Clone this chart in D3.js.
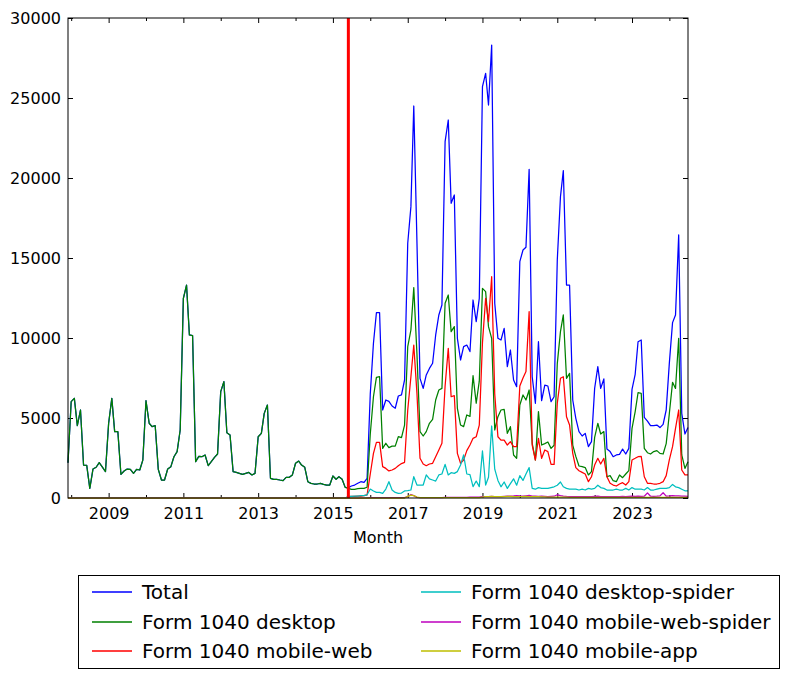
<!DOCTYPE html>
<html>
<head>
<meta charset="utf-8">
<script src="https://cdn.jsdelivr.net/npm/d3@7"></script>
<style>
  body { margin: 0; background: #fff; }
  svg { display: block; font-family: "DejaVu Sans", sans-serif; }
</style>
</head>
<body>
<svg id="chart" width="790" height="679"></svg>
<script>
// one value per month, starting at firstMonth
const firstMonth = "2007-12";
const markerMonth = "2015-06";

const total = [
  2200, 6020, 6230, 4520, 5500, 2060, 2040, 600, 1810, 1920,
  2210, 1930, 1650, 4670, 6230, 4150, 4150, 1480, 1690, 1810,
  1790, 1540, 1790, 1750, 2370, 6080, 4670, 4460, 4520, 1790,
  1125, 1125, 1810, 1960, 2580, 2900, 4250, 12480, 13310, 10190,
  10150, 2270, 2600, 2580, 2690, 2020, 2270, 2540, 2750, 6650,
  7270, 4080, 3940, 1650, 1600, 1540, 1480, 1540, 1600, 1440,
  1540, 3830, 4040, 5290, 5810, 1230, 1170, 1170, 1125, 1085,
  1290, 1290, 1440, 2170, 2310, 2060, 1915, 1020, 915, 875,
  875, 915, 855, 810, 810, 1375, 1170, 1330, 1170, 665,
  650, 750, 810, 920, 1020, 980, 1230, 6500, 9670, 11580,
  11580, 5500, 6125, 6040, 5750, 5610, 6375, 6440, 7375, 15920,
  18210, 24500, 16000, 7480, 6850, 7690, 8100, 8420, 10190, 11440,
  12060, 22270, 23625, 18420, 18940, 9980, 8625, 9460, 9560, 9150,
  12375, 11020, 12480, 25710, 26540, 24560, 28310, 12170, 9980, 9875,
  10600, 8210, 9250, 7375, 6960, 14770, 15500, 15670, 20540, 7580,
  5920, 9770, 6080, 7060, 7000, 6020, 6330, 14875, 18830, 20460,
  13310, 13310, 6125, 4980, 4150, 3875, 4040, 3210, 3520, 6850,
  8210, 6850, 7440, 3060, 2900, 2580, 2690, 2730, 3060, 2750,
  3100, 6790, 7730, 9770, 9875, 5040, 4810, 4520, 4520, 4560,
  4400, 4600, 5500, 8460, 10960, 11440, 16440, 5290, 4000, 4400
];

const desktop = [
  2200, 6020, 6230, 4520, 5500, 2060, 2040, 600, 1810, 1920,
  2210, 1930, 1650, 4670, 6230, 4150, 4150, 1480, 1690, 1810,
  1790, 1540, 1790, 1750, 2370, 6080, 4670, 4460, 4520, 1790,
  1125, 1125, 1810, 1960, 2580, 2900, 4250, 12480, 13310, 10190,
  10150, 2270, 2600, 2580, 2690, 2020, 2270, 2540, 2750, 6650,
  7270, 4080, 3940, 1650, 1600, 1540, 1480, 1540, 1600, 1440,
  1540, 3830, 4040, 5290, 5810, 1230, 1170, 1170, 1125, 1085,
  1290, 1290, 1440, 2170, 2310, 2060, 1915, 1020, 915, 875,
  875, 915, 855, 810, 810, 1375, 1170, 1330, 1170, 665,
  600, 540, 540, 580, 600, 600, 670, 4000, 6330, 7540,
  7580, 3100, 3420, 3150, 3240, 3240, 3830, 3770, 4560, 9460,
  10500, 13150, 9000, 4150, 3875, 4150, 4670, 4920, 6125, 6750,
  6850, 12170, 12690, 10400, 10710, 5600, 4560, 4460, 5190, 5100,
  7650, 5920, 7300, 13100, 12900, 10710, 9980, 4250, 5080, 5500,
  5540, 4040, 4460, 2690, 2480, 5810, 6440, 6125, 6750, 3420,
  2375, 5400, 3310, 3400, 3500, 3100, 3300, 8400, 10400, 11440,
  7480, 7790, 3310, 2600, 2000, 1960, 1900, 1440, 1650, 3790,
  4670, 4000, 4150, 1330, 1400, 1080, 1020, 1440, 1270, 1500,
  1710, 4350, 5400, 6580, 6540, 3100, 2830, 2750, 2900, 2960,
  2790, 2750, 3400, 5300, 7230, 6850, 9980, 2690, 1850, 2270
];

const mobileWeb = [
  0, 0, 0, 0, 0, 0, 0, 0, 0, 0,
  0, 0, 0, 0, 0, 0, 0, 0, 0, 0,
  0, 0, 0, 0, 0, 0, 0, 0, 0, 0,
  0, 0, 0, 0, 0, 0, 0, 0, 0, 0,
  0, 0, 0, 0, 0, 0, 0, 0, 0, 0,
  0, 0, 0, 0, 0, 0, 0, 0, 0, 0,
  0, 0, 0, 0, 0, 0, 0, 0, 0, 0,
  0, 0, 0, 0, 0, 0, 0, 0, 0, 0,
  0, 0, 0, 0, 0, 0, 0, 0, 0, 0,
  80, 100, 100, 120, 120, 150, 200, 1500, 2790, 3480,
  3480, 1960, 1850, 1690, 1750, 1850, 2020, 2150, 2230, 5500,
  7580, 9560, 6540, 2480, 2125, 2020, 2125, 2170, 2580, 3000,
  3420, 7000, 9350, 6330, 6400, 2790, 2170, 2375, 2960, 3310,
  3730, 3830, 4560, 9700, 12480, 11020, 13830, 6500, 3830, 3620,
  3620, 3310, 3520, 3210, 3210, 7000, 7500, 7900, 11650, 3310,
  2375, 3730, 2480, 3000, 2900, 2100, 2100, 5920, 7480, 7580,
  5080, 4560, 2790, 1900, 1700, 1600, 1500, 1020, 1330, 2060,
  2480, 2125, 2480, 1330, 920, 810, 750, 875, 960, 810,
  1020, 2375, 2480, 2580, 2600, 1330, 920, 920, 875, 875,
  920, 1020, 1400, 2400, 3210, 4350, 5500, 1750, 1440, 1440
];

const desktopSpider = [
  0, 0, 0, 0, 0, 0, 0, 0, 0, 0,
  0, 0, 0, 0, 0, 0, 0, 0, 0, 0,
  0, 0, 0, 0, 0, 0, 0, 0, 0, 0,
  0, 0, 0, 0, 0, 0, 0, 0, 0, 0,
  0, 0, 0, 0, 0, 0, 0, 0, 0, 0,
  0, 0, 0, 0, 0, 0, 0, 0, 0, 0,
  0, 0, 0, 0, 0, 0, 0, 0, 0, 0,
  0, 0, 0, 0, 0, 0, 0, 0, 0, 0,
  0, 0, 0, 0, 0, 0, 0, 0, 0, 0,
  100, 100, 120, 120, 150, 150, 200, 560, 440, 350,
  350, 290, 560, 1020, 500, 350, 290, 310, 440, 460,
  500, 1330, 810, 810, 810, 1440, 1190, 1125, 1060, 1440,
  1500, 2100, 1440, 1580, 1540, 1650, 2060, 2690, 1500, 1460,
  710, 1060, 710, 2940, 810, 1300, 4500, 1800, 1100, 700,
  1000, 600, 900, 1200, 800, 1400, 1100, 1500, 1900, 600,
  550, 650, 600, 600, 600, 650, 700, 800, 1000, 700,
  600, 550, 550, 550, 500, 550, 500, 600, 550, 600,
  800, 650, 600, 500, 500, 500, 550, 500, 500, 600,
  500, 650, 550, 550, 550, 500, 650, 500, 500, 550,
  600, 600, 600, 650, 850, 700, 650, 550, 450, 450
];

const mobileWebSpider = [
  0, 0, 0, 0, 0, 0, 0, 0, 0, 0,
  0, 0, 0, 0, 0, 0, 0, 0, 0, 0,
  0, 0, 0, 0, 0, 0, 0, 0, 0, 0,
  0, 0, 0, 0, 0, 0, 0, 0, 0, 0,
  0, 0, 0, 0, 0, 0, 0, 0, 0, 0,
  0, 0, 0, 0, 0, 0, 0, 0, 0, 0,
  0, 0, 0, 0, 0, 0, 0, 0, 0, 0,
  0, 0, 0, 0, 0, 0, 0, 0, 0, 0,
  0, 0, 0, 0, 0, 0, 0, 0, 0, 0,
  0, 0, 0, 0, 0, 0, 10, 20, 20, 20,
  20, 20, 20, 20, 20, 20, 20, 20, 20, 80,
  220, 150, 40, 30, 30, 30, 30, 30, 30, 30,
  30, 40, 40, 40, 40, 40, 40, 40, 40, 50,
  50, 50, 50, 80, 90, 80, 100, 90, 80, 90,
  100, 110, 120, 130, 150, 130, 120, 140, 160, 120,
  110, 100, 110, 100, 90, 100, 110, 200, 150, 120,
  100, 90, 90, 80, 80, 80, 90, 80, 80, 100,
  110, 90, 90, 80, 80, 80, 90, 90, 100, 90,
  100, 110, 100, 120, 100, 110, 320, 110, 100, 110,
  130, 330, 120, 130, 150, 140, 130, 120, 110, 100
];

const mobileApp = [
  0, 0, 0, 0, 0, 0, 0, 0, 0, 0,
  0, 0, 0, 0, 0, 0, 0, 0, 0, 0,
  0, 0, 0, 0, 0, 0, 0, 0, 0, 0,
  0, 0, 0, 0, 0, 0, 0, 0, 0, 0,
  0, 0, 0, 0, 0, 0, 0, 0, 0, 0,
  0, 0, 0, 0, 0, 0, 0, 0, 0, 0,
  0, 0, 0, 0, 0, 0, 0, 0, 0, 0,
  0, 0, 0, 0, 0, 0, 0, 0, 0, 0,
  0, 0, 0, 0, 0, 0, 0, 0, 0, 0,
  0, 0, 0, 0, 0, 0, 0, 0, 0, 0,
  0, 0, 0, 0, 0, 0, 0, 0, 0, 100,
  180, 150, 60, 30, 20, 20, 20, 20, 20, 20,
  20, 20, 20, 20, 20, 20, 20, 20, 20, 20,
  20, 20, 20, 60, 80, 90, 100, 90, 80, 80,
  90, 100, 100, 90, 80, 80, 90, 100, 90, 80,
  80, 80, 70, 70, 60, 60, 60, 60, 50, 50,
  50, 40, 40, 40, 40, 40, 40, 40, 40, 40,
  40, 40, 40, 40, 40, 40, 40, 40, 40, 40,
  40, 40, 40, 40, 40, 40, 40, 40, 40, 40,
  40, 40, 40, 40, 40, 40, 40, 40, 40, 40
];

const seriesNames = [
  "Total", "Form 1040 desktop", "Form 1040 mobile-web",
  "Form 1040 desktop-spider", "Form 1040 mobile-web-spider", "Form 1040 mobile-app"
];
const seriesValues = [total, desktop, mobileWeb, desktopSpider, mobileWebSpider, mobileApp];
const seriesColors = ["#0000ff", "#008000", "#ff0000", "#00bfbf", "#bf00bf", "#bfbf00"];

const yTicks = [0, 5000, 10000, 15000, 20000, 25000, 30000];
const labelYears = [2009, 2011, 2013, 2015, 2017, 2019, 2021, 2023];
const minorYears = [2008, 2010, 2012, 2014, 2016, 2018, 2020, 2022, 2024];

// layout
const margin = { top: 18, right: 102, bottom: 181, left: 68 };
const width = 790, height = 679;
const plotW = width - margin.left - margin.right;
const plotH = height - margin.top - margin.bottom;

const parseMonth = d3.timeParse("%Y-%m");
const start = parseMonth(firstMonth);
const months = total.map((d, i) => d3.timeMonth.offset(start, i));

const x = d3.scaleTime()
    .domain([months[0], months[months.length - 1]])
    .range([0, plotW]);
const y = d3.scaleLinear()
    .domain([0, 30000])
    .range([plotH, 0]);

const svg = d3.select("#chart");
const g = svg.append("g")
    .attr("transform", `translate(${margin.left},${margin.top})`);

const yearDate = yr => new Date(yr, 0, 1);

// axes: classic inward ticks on all four sides
const tickFont = g => g.selectAll("text")
    .attr("font-family", "DejaVu Sans, sans-serif")
    .attr("font-size", 16)
    .attr("fill", "#000");

g.append("g")
    .attr("transform", `translate(0,${plotH})`)
    .call(d3.axisBottom(x).tickValues(labelYears.map(yearDate))
        .tickFormat(d3.timeFormat("%Y")).tickSize(-5).tickPadding(10))
    .call(a => a.select(".domain").remove())
    .call(tickFont);
g.append("g")
    .attr("transform", `translate(0,${plotH})`)
    .call(d3.axisBottom(x).tickValues(minorYears.map(yearDate))
        .tickFormat("").tickSize(-3))
    .call(a => a.select(".domain").remove());
g.append("g")
    .call(d3.axisTop(x).tickValues(labelYears.map(yearDate))
        .tickFormat("").tickSize(-5))
    .call(a => a.select(".domain").remove());
g.append("g")
    .call(d3.axisTop(x).tickValues(minorYears.map(yearDate))
        .tickFormat("").tickSize(-3))
    .call(a => a.select(".domain").remove());

g.append("g")
    .call(d3.axisLeft(y).tickValues(yTicks).tickFormat(d3.format("d"))
        .tickSize(-5).tickPadding(7))
    .call(a => a.select(".domain").remove())
    .call(tickFont);
g.append("g")
    .attr("transform", `translate(${plotW},0)`)
    .call(d3.axisRight(y).tickValues(yTicks).tickFormat("").tickSize(-5))
    .call(a => a.select(".domain").remove());

// series lines
const line = d3.line()
    .x((d, i) => x(months[i]))
    .y(d => y(d));

g.selectAll(".series")
  .data(seriesValues)
  .join("path")
    .attr("class", "series")
    .attr("fill", "none")
    .attr("stroke", (d, i) => seriesColors[i])
    .attr("stroke-width", 1.25)
    .attr("stroke-linejoin", "round")
    .attr("d", line);

// launch marker
const mx = x(parseMonth(markerMonth));
g.append("line")
    .attr("x1", mx).attr("x2", mx)
    .attr("y1", 0).attr("y2", plotH)
    .attr("stroke", "#ff0000")
    .attr("stroke-width", 3);

// frame
g.append("rect")
    .attr("x", 0).attr("y", 0)
    .attr("width", plotW).attr("height", plotH)
    .attr("fill", "none")
    .attr("stroke", "#000")
    .attr("stroke-width", 1);

g.append("text")
    .attr("x", plotW / 2)
    .attr("y", plotH + 45)
    .attr("text-anchor", "middle")
    .attr("font-size", 16)
    .text("Month");

// legend, two columns below the plot
const legend = svg.append("g");
legend.append("rect")
    .attr("x", 78.5).attr("y", 575.5)
    .attr("width", 701).attr("height", 93)
    .attr("fill", "#fff")
    .attr("stroke", "#000")
    .attr("stroke-width", 1);

const colX = [92, 421];
const rowY = [592, 621.5, 651];
seriesNames.forEach((name, i) => {
    const cx = colX[Math.floor(i / 3)];
    const cy = rowY[i % 3];
    legend.append("rect")
        .attr("x", cx).attr("y", Math.round(cy) - 0.75)
        .attr("width", 40).attr("height", 1.5)
        .attr("fill", seriesColors[i]);
    legend.append("text")
        .attr("x", cx + 50)
        .attr("y", cy)
        .attr("dy", "0.35em")
        .attr("font-size", 20)
        .text(name);
});
</script>
</body>
</html>
